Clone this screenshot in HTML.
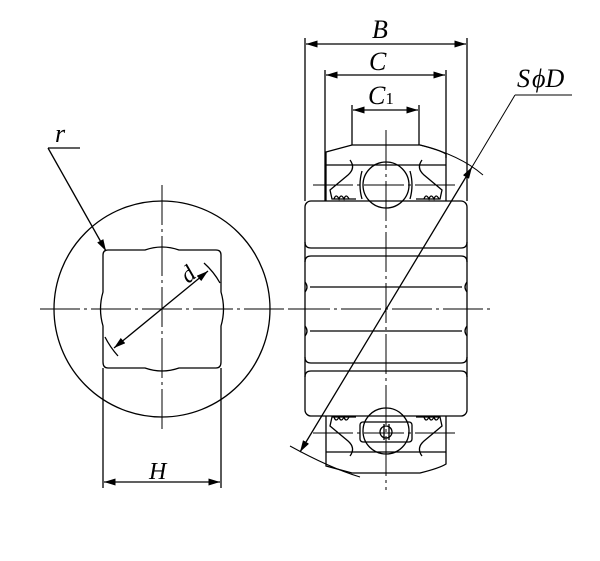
<!DOCTYPE html>
<html><head><meta charset="utf-8"><style>html,body{margin:0;padding:0;background:#fff}svg{display:block}</style></head><body>
<svg width="600" height="561" viewBox="0 0 600 561" xmlns="http://www.w3.org/2000/svg" fill="none" stroke="#000" stroke-width="1.3">
<defs><marker id="a" viewBox="0 0 10 10" refX="10" refY="5" markerWidth="9" markerHeight="9" orient="auto-start-reverse"><path d="M0,2 L10,5 L0,8 z" fill="#000" stroke="none"/></marker></defs>
<!-- left view -->
<circle cx="162" cy="309" r="108"/>
<path d="M108,250 L145,250 Q162,244 179,250 L216,250 Q221,250 221,255 L221,292 Q226,309 221,326 L221,362 Q221,368 216,368 L179,368 Q162,374 145,368 L108,368 Q103,368 103,362 L103,326 Q98,309 103,292 L103,255 Q103,250 108,250 Z"/>
<g stroke-width="1" stroke-dasharray="40,4,3,4"><line x1="40" y1="309" x2="290" y2="309"/><line x1="162" y1="185" x2="162" y2="432"/></g>
<line x1="114" y1="348" x2="208" y2="271" marker-start="url(#a)" marker-end="url(#a)"/>
<path d="M204,263 Q214,272 220,283"/><path d="M105,337 Q110,347 118,356"/>
<text x="182" y="285" font-family="Liberation Serif" font-style="italic" font-size="24" fill="#000" stroke="none" transform="rotate(-40 184 276)">d</text>
<line x1="48" y1="148" x2="80" y2="148"/><line x1="48" y1="148" x2="106" y2="251" marker-end="url(#a)"/>
<text x="55" y="142" font-family="Liberation Serif" font-style="italic" font-size="26" fill="#000" stroke="none">r</text>
<line x1="103" y1="368" x2="103" y2="488"/><line x1="221" y1="368" x2="221" y2="488"/>
<line x1="104" y1="482" x2="220" y2="482" marker-start="url(#a)" marker-end="url(#a)"/>
<text x="149" y="479" font-family="Liberation Serif" font-style="italic" font-size="24" fill="#000" stroke="none">H</text>
<!-- right view -->
<rect x="305" y="201" width="162" height="215" rx="6"/>
<path d="M305,242 Q305,248 311,248 L461,248 Q467,248 467,242"/>
<path d="M305,262 Q305,256 311,256 L461,256 Q467,256 467,262"/>
<path d="M305,282 Q309,287 305,292 M467,282 Q463,287 467,292"/>
<line x1="310" y1="287" x2="462" y2="287"/>
<path d="M305,326 Q309,331 305,336 M467,326 Q463,331 467,336"/>
<line x1="310" y1="331" x2="462" y2="331"/>
<path d="M305,357 Q305,363 311,363 L461,363 Q467,363 467,357"/>
<path d="M305,377 Q305,371 311,371 L461,371 Q467,371 467,377"/>
<!-- top shell -->
<path d="M326,201 L326,152 L352,145 L420,145 Q440,150 446,154 L446,201"/>
<line x1="326" y1="165" x2="446" y2="165"/>
<circle cx="386" cy="185" r="23"/>
<path d="M362,171 Q358,185 362,199"/><path d="M410,171 Q414,185 410,199"/>
<path d="M350,160 Q356,168 348,175 L330,190 L332,199 L356,199"/><path d="M422,160 Q416,168 424,175 L442,190 L440,199 L416,199"/>
<path d="M334,199 q2,-6 5,0 q2,-6 5,0 q2,-6 5,0"/><path d="M424,199 q2,-6 5,0 q2,-6 5,0 q2,-6 5,0"/>
<!-- bottom shell -->
<path d="M326,416 L326,466 L352,473 L420,473 Q440,468 446,464 L446,416"/>
<line x1="326" y1="452" x2="446" y2="452"/>
<circle cx="386" cy="431" r="23"/>
<rect x="360" y="422" width="52" height="20" rx="3"/>
<circle cx="386" cy="432" r="6"/><line x1="384" y1="424" x2="384" y2="440"/><line x1="389" y1="424" x2="389" y2="440"/>
<path d="M350,456 Q356,448 348,441 L330,426 L332,417 L356,417"/><path d="M422,456 Q416,448 424,441 L442,426 L440,417 L416,417"/>
<path d="M334,417 q2,6 5,0 q2,6 5,0 q2,6 5,0"/><path d="M424,417 q2,6 5,0 q2,6 5,0 q2,6 5,0"/>
<g stroke-width="1" stroke-dasharray="40,4,3,4"><line x1="290" y1="309" x2="490" y2="309"/><line x1="386" y1="130" x2="386" y2="490"/><line x1="313" y1="185" x2="458" y2="185"/><line x1="313" y1="433" x2="458" y2="433"/></g>
<!-- arcs -->
<path d="M420,145 Q460,155 483,175" stroke-width="1"/>
<path d="M290,446 Q330,468 360,477" stroke-width="1"/>
<!-- dims -->
<line x1="305" y1="38" x2="305" y2="201"/><line x1="467" y1="38" x2="467" y2="201"/>
<line x1="306" y1="44" x2="466" y2="44" marker-start="url(#a)" marker-end="url(#a)"/>
<line x1="325" y1="70" x2="325" y2="201"/><line x1="446" y1="70" x2="446" y2="158"/>
<line x1="326" y1="75" x2="445" y2="75" marker-start="url(#a)" marker-end="url(#a)"/>
<line x1="352" y1="105" x2="352" y2="145"/><line x1="419" y1="105" x2="419" y2="145"/>
<line x1="353" y1="110" x2="418" y2="110" marker-start="url(#a)" marker-end="url(#a)"/>
<text x="372" y="38" font-family="Liberation Serif" font-style="italic" font-size="26" fill="#000" stroke="none">B</text>
<text x="369" y="70" font-family="Liberation Serif" font-style="italic" font-size="26" fill="#000" stroke="none">C</text>
<text x="368" y="104" font-family="Liberation Serif" font-style="italic" font-size="26" fill="#000" stroke="none">C<tspan font-style="normal" font-size="17">1</tspan></text>
<line x1="300" y1="452" x2="472" y2="167" marker-start="url(#a)" marker-end="url(#a)"/>
<line x1="472" y1="167" x2="515" y2="95" stroke-width="1"/>
<line x1="515" y1="95" x2="572" y2="95" stroke-width="1"/>
<text x="517" y="87" font-family="Liberation Serif" font-style="italic" font-size="26" fill="#000" stroke="none">S<tspan dx="2">ϕ</tspan>D</text>
</svg>
</body></html>
